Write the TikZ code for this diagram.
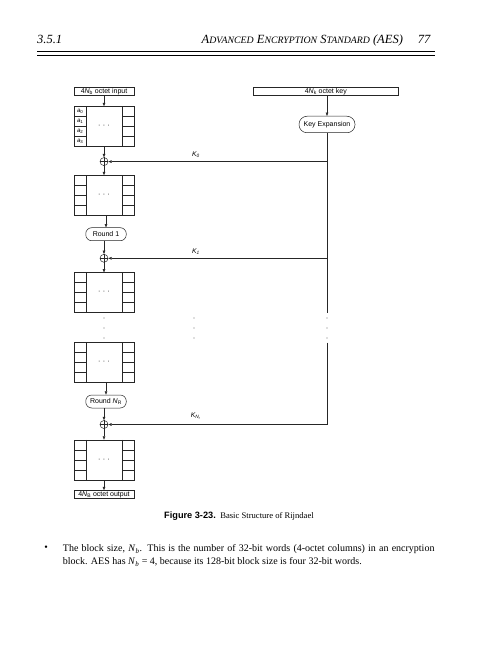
\documentclass[tikz,border=0pt]{standalone}
\usepackage{fontspec}
\setmainfont{Liberation Serif}
\setsansfont{Liberation Sans}
\usetikzlibrary{arrows.meta,calc}

% state array: outer frame, two side columns of four cells, dots in the middle
\newcommand\stateblk[2]{%
  \node[blk] (#1) at (104,#2) {·\hspace{2.4pt}·\hspace{2.4pt}·};
  \draw[line] ($(#1.north west)+(12.5,0)$) -- ($(#1.south west)+(12.5,0)$)
              ($(#1.north east)+(-12,0)$) -- ($(#1.south east)+(-12,0)$);
  \foreach \r in {10,20,30}{
    \draw[line] ($(#1.north west)+(0,\r)$) -- ++(12.5,0)
                ($(#1.north east)+(0,\r)$) -- ++(-12,0);
  }%
}
\newcommand\xorsym[1]{%
  \draw[line] (#1.north) -- (#1.south) (#1.west) -- (#1.east);}

\begin{document}
\begin{tikzpicture}[x=1pt,y=-1pt,
  line/.style={draw=black!85, line width=0.5pt},
  arr/.style={line, -{Triangle[length=3.4pt,width=2.6pt]}},
  lbl/.style={font=\sffamily\fontsize{7}{8}\selectfont, inner sep=0pt},
  iobox/.style={line, lbl, minimum width=60pt, minimum height=8pt},
  rbox/.style={line, lbl, rounded corners=6pt, minimum width=40.5pt, minimum height=13pt},
  blk/.style={line, lbl, minimum width=60pt, minimum height=40pt},
  xor/.style={line, circle, minimum size=8pt, inner sep=0pt},
  klbl/.style={font=\sffamily\itshape\fontsize{6.8}{8}\selectfont, inner sep=0pt},
  alab/.style={font=\sffamily\itshape\fontsize{6.2}{7}\selectfont, inner sep=0pt},
  vdot/.style={circle, fill=black!55, inner sep=0pt, minimum size=1.1pt},
  body/.style={anchor=base west, inner sep=0pt, font=\fontsize{10}{13}\selectfont},
  head/.style={inner sep=0pt, font=\itshape\fontsize{12.5}{14}\selectfont},
]
\useasboundingbox (0,0) rectangle (488,655);

% running head
\node[head, anchor=base west] (hsec) at (37,44) {3.5.1};
\node[head, anchor=base west] (htitle) at (201.5,44)
  {A{\fontsize{9.8}{12}\selectfont DVANCED} E{\fontsize{9.8}{12}\selectfont NCRYPTION} S{\fontsize{9.8}{12}\selectfont TANDARD} (AES)};
\node[head, anchor=base east] (hpage) at (430.5,44) {77};
\draw[line width=0.6pt] (37,51.5) -- (435,51.5);
\draw[line width=0.6pt] (37,55) -- (435,55);

% data path
\node[iobox] (in) at (104,91.2) {4\textit{N}\textsubscript{b} octet input};
\stateblk{s0}{126.5}
\foreach \i in {0,1,2,3}{
  \node[alab] (a\i) at (80.2,{111.5+10*\i}) {a\textsubscript{\upshape\i}};
}
\node[xor] (x0) at (104,161.6) {}; \xorsym{x0}
\stateblk{s1}{195.5}
\node[rbox] (r1) at (106,234.2) {Round 1};
\node[xor] (x1) at (104,258.3) {}; \xorsym{x1}
\stateblk{s2}{292.7}
\stateblk{s3}{362.7}
\node[rbox] (rn) at (106,401.5) {Round \textit{N}\textsubscript{R}};
\node[xor] (x2) at (104,424.5) {}; \xorsym{x2}
\stateblk{s4}{460}
\node[iobox] (out) at (104,494.5) {4\textit{N}\textsubscript{B} octet output};

\draw[arr] (in) -- (s0);
\draw[arr] (s0) -- (x0);
\draw[arr] (x0) -- (s1);
\draw[arr] (s1.south -| r1) -- (r1);
\draw[arr] (r1.south -| x1) -- (x1);
\draw[arr] (x1) -- (s2);
\draw[arr] (s3.south -| rn) -- (rn);
\draw[arr] (rn.south -| x2) -- (x2);
\draw[arr] (x2) -- (s4);
\draw[arr] (s4) -- (out);

% key schedule
\node[iobox, minimum width=145pt] (key) at (325.8,91.2) {4\textit{N}\textsubscript{k} octet key};
\node[rbox, minimum width=56pt, minimum height=16.5pt, rounded corners=8pt] (kexp) at (327,124.5) {Key Expansion};
\draw[arr] (key.south -| kexp) -- (kexp);
\coordinate (kt) at (327,313);
\coordinate (kb) at (327,342.5);
\draw[line] (kexp) -- (kt);
\draw[line] (kb) -- (kexp.south |- x2);
\draw[arr] (kexp.south |- x0) -- (x0);
\draw[arr] (kexp.south |- x1) -- (x1);
\draw[arr] (kexp.south |- x2) -- (x2);
\node[klbl] (k0) at (196,155) {K\textsubscript{0}};
\node[klbl] (k1) at (196,252) {K\textsubscript{1}};
\node[klbl] (kn) at (196,416.5) {K\textsubscript{N\textsubscript{r}}};

% elided rounds
\foreach \x in {104,194,327}{
  \foreach \y in {318,328,338}{
    \node[vdot] at (\x,\y) {};
  }
}

% caption
\node[anchor=base west, inner sep=0pt] (cap) at (164,518)
  {{\sffamily\bfseries\fontsize{9.2}{11}\selectfont Figure 3-23.}\hspace{4.5pt}{\fontsize{8.6}{10}\selectfont Basic Structure of Rijndael}};

% body text
\node[inner sep=0pt, font=\fontsize{10}{13}\selectfont] (bul) at (46,548.3) {\textbullet};
\node[body] (l1) at (62.7,551.5)
  {\makebox[371.6pt][s]{The block size, \textit{N}\textsubscript{\textit{b}}. This is the number of 32-bit words (4-octet columns) in an encryption}};
\node[body] (l2) at (62.7,564.8)
  {block. AES has \textit{N}\textsubscript{\textit{b}} = 4, because its 128-bit block size is four 32-bit words.};
\end{tikzpicture}
\end{document}
